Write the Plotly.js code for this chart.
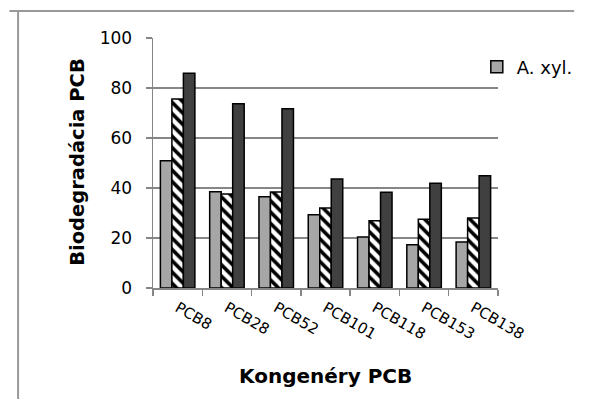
<!DOCTYPE html>
<html><head><meta charset="utf-8">
<script src="https://cdn.plot.ly/plotly-3.0.1.min.js"></script>
<style>html,body{margin:0;padding:0;background:#fff}#chart{width:590px;height:399px}</style>
</head><body><div id="chart"></div>
<script>
const categories = ["PCB8","PCB28","PCB52","PCB101","PCB118","PCB153","PCB138"];
const axylValues = [50.9, 38.5, 36.5, 29.3, 20.4, 17.3, 18.4];
const hatchedValues = [75.6, 37.6, 38.4, 32.0, 26.9, 27.5, 28.0];
const darkValues = [85.9, 73.7, 71.7, 43.6, 38.3, 41.9, 44.9];
const seriesNames = ["A. xyl.", "", ""];
const yTickVals = [0, 20, 40, 60, 80, 100];
const xTitle = "Kongenéry PCB";
const yTitle = "Biodegradácia PCB";

const FONT = "DejaVu Sans, Verdana, sans-serif";
const GRID = "#868686";
const edge = {color: "#000", width: 1.5};
const traces = [
  {type: "bar", x: categories, y: axylValues, name: seriesNames[0],
   marker: {color: "#a6a6a6", line: edge}, showlegend: true},
  {type: "bar", x: categories, y: hatchedValues, name: seriesNames[1],
   marker: {color: "#ffffff", line: edge,
     pattern: {shape: "\\", fgcolor: "#000", bgcolor: "#fff", size: 8, solidity: 0.45}},
   showlegend: false},
  {type: "bar", x: categories, y: darkValues, name: seriesNames[2],
   marker: {color: "#404040", line: edge}, showlegend: false}
];

const L = 153, R = 511, T = 38, B = 288;
const px2x = p => (p - L) / (R - L);
const py2y = p => (B - p) / (B - T);

const layout = {
  width: 590, height: 399,
  margin: {l: L, r: 590 - R, t: T, b: 399 - B},
  paper_bgcolor: "#fff", plot_bgcolor: "#fff",
  barmode: "group", bargap: 0.3, bargroupgap: 0,
  font: {family: FONT, color: "#000", size: 17},
  xaxis: {
    type: "category",
    tickangle: 30,
    tickson: "boundaries",
    ticks: "outside", ticklen: 6, tickwidth: 1.5, tickcolor: GRID,
    showline: true, linecolor: GRID, linewidth: 1.5,
    showgrid: false, zeroline: false,
    tickfont: {family: FONT, size: 15},
    ticklabelstandoff: 4
  },
  yaxis: {
    range: [0, 100], tickvals: yTickVals,
    ticks: "outside", ticklen: 6, tickwidth: 1.5, tickcolor: GRID,
    showline: true, linecolor: GRID, linewidth: 1.5,
    showgrid: true, gridcolor: GRID, gridwidth: 1.5,
    zeroline: false,
    tickfont: {family: FONT, size: 17},
    ticklabelstandoff: 10
  },
  legend: {
    x: px2x(489), y: py2y(67), xanchor: "left", yanchor: "middle",
    font: {family: FONT, size: 18}, bgcolor: "rgba(0,0,0,0)",
    itemwidth: 30, tracegroupgap: 0
  },
  annotations: [
    {text: xTitle, xref: "paper", yref: "paper", x: px2x(332), y: py2y(376),
     xanchor: "center", yanchor: "middle", showarrow: false,
     font: {family: FONT, size: 20, weight: "bold", color: "#000"}},
    {text: yTitle, xref: "paper", yref: "paper", x: px2x(74), y: py2y(162),
     xanchor: "center", yanchor: "middle", showarrow: false, textangle: -90,
     font: {family: FONT, size: 19.5, weight: "bold", color: "#000"}}
  ],
  shapes: [
    {type: "line", xref: "paper", yref: "paper", x0: px2x(4), x1: px2x(590), y0: py2y(11), y1: py2y(11),
     line: {color: "#999", width: 2}},
    {type: "line", xref: "paper", yref: "paper", x0: px2x(13), x1: px2x(13), y0: py2y(11), y1: py2y(399),
     line: {color: "#999", width: 2}}
  ]
};

Plotly.newPlot("chart", traces, layout, {displayModeBar: false, staticPlot: true});
</script>
</body></html>
